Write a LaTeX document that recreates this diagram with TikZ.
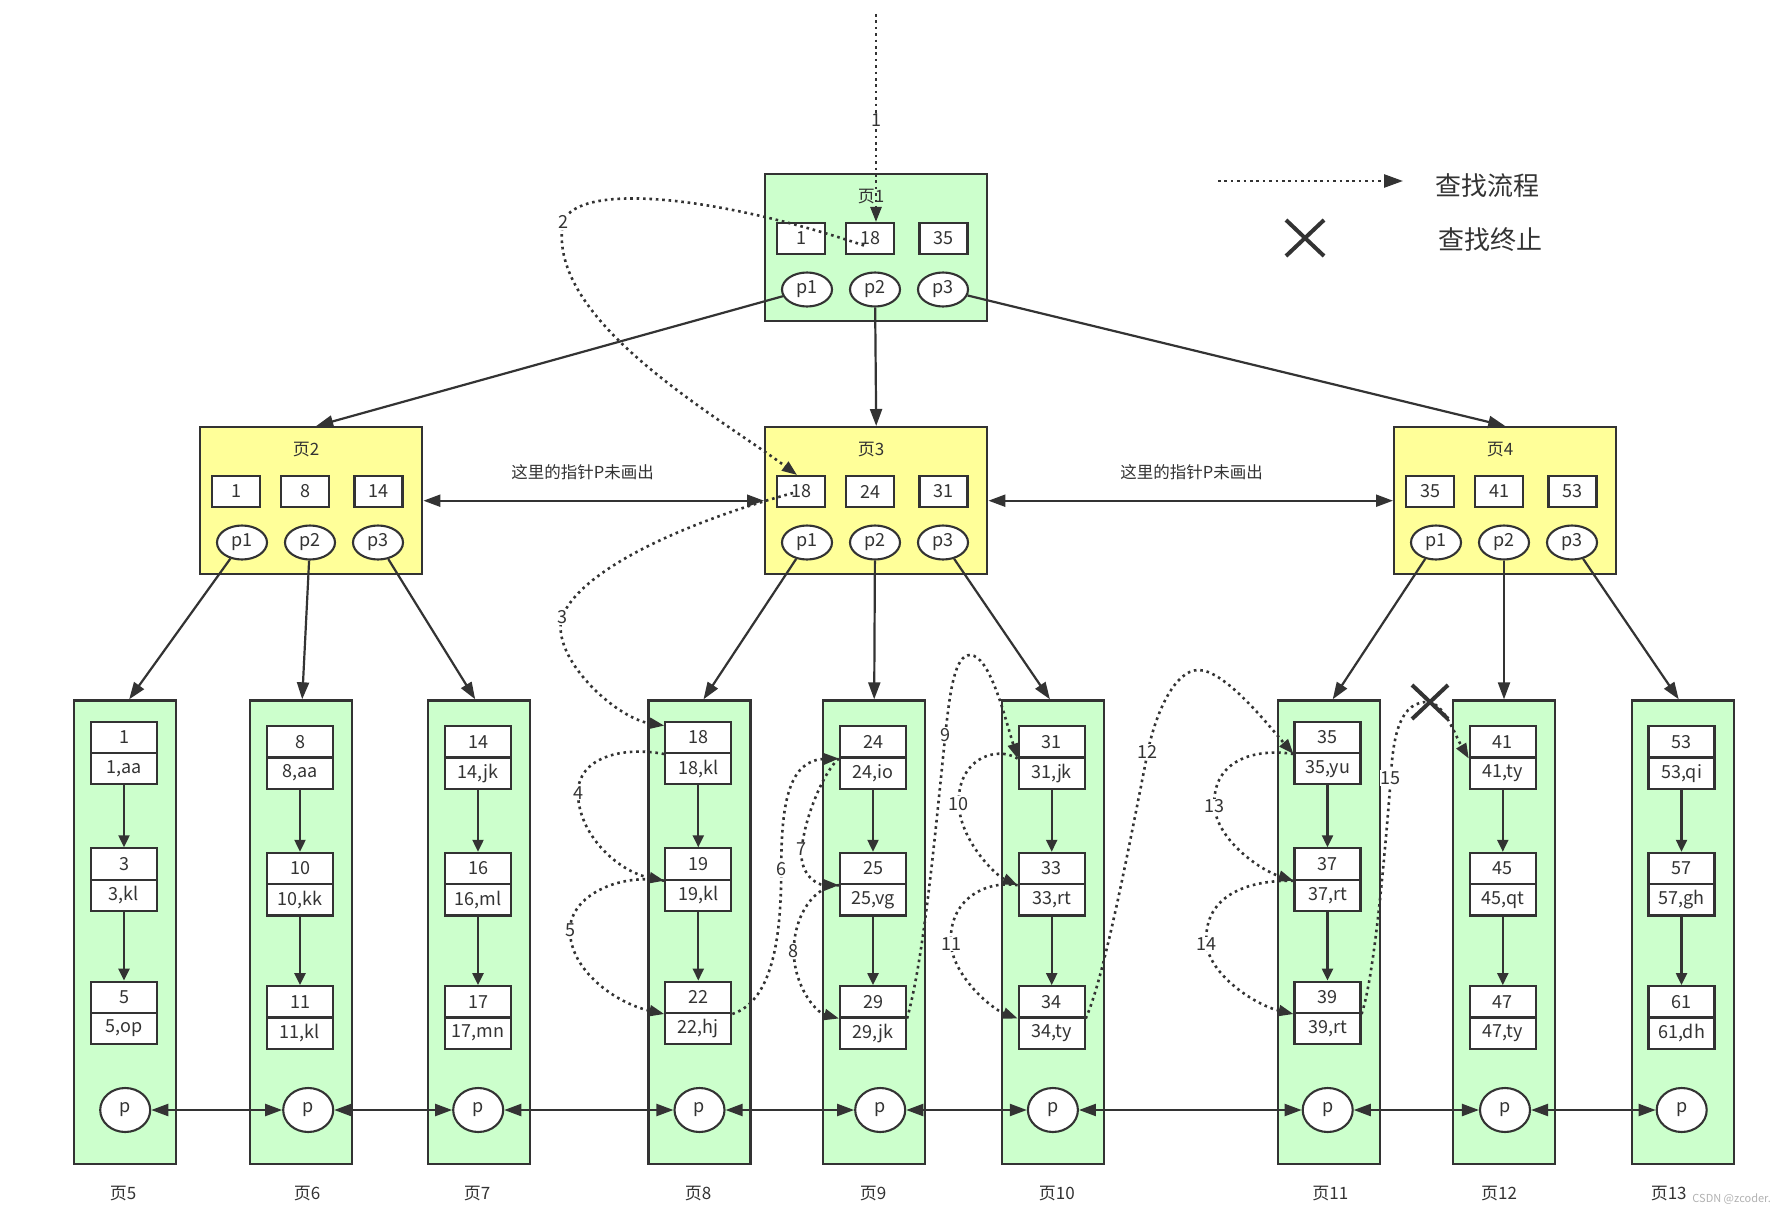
\documentclass[tikz,border=0pt]{standalone}
\usepackage{fontspec}
\setmainfont{Noto Sans CJK SC}
\usetikzlibrary{arrows.meta,shapes.geometric,shapes.misc,calc}
\definecolor{ink}{HTML}{333333}
\definecolor{leafgreen}{HTML}{CCFFCC}
\definecolor{pageyellow}{HTML}{FFFF99}
\tikzset{
  ibox/.style={draw=ink, line width=2.4pt, minimum width=222pt, minimum height=147pt, inner sep=0pt},
  lbox/.style={draw=ink, line width=2.4pt, fill=leafgreen, minimum width=102pt, minimum height=463.4pt, inner sep=0pt},
  txt/.style={text=ink, font=\fontsize{18}{20}\selectfont},
  ikey/.style={txt, draw=ink, line width=2.1pt, fill=white, minimum width=48pt, minimum height=31pt, inner sep=0pt},
  iell/.style={txt, ellipse, draw=ink, line width=2.1pt, fill=white, minimum width=50pt, minimum height=34pt, inner sep=0pt},
  entrykey/.style={txt, draw=ink, line width=2.1pt, fill=white, minimum width=66pt, minimum height=31.3pt, inner sep=0pt},
  pell/.style={txt, ellipse, draw=ink, line width=2.1pt, fill=white, minimum width=50pt, minimum height=44pt, inner sep=0pt},
  ttl/.style={text=ink, font=\fontsize{17}{20}\selectfont, inner sep=0pt},
  note/.style={text=ink, font=\fontsize{16.5}{19}\selectfont, inner sep=0pt},
  legendtxt/.style={text=ink, font=\fontsize{26}{30}\selectfont, inner sep=0pt},
  bigarrow/.style={draw=ink, line width=2.2pt, -{Triangle[length=17pt,width=12pt]}},
  bothways/.style={draw=ink, line width=2.2pt, {Triangle[length=17pt,width=12pt]}-{Triangle[length=17pt,width=12pt]}},
  earrow/.style={draw=ink, line width=2.2pt, -{Triangle[length=12pt,width=11pt]}},
  flow/.style={draw=ink, line width=2.6pt, dash pattern=on 2.6pt off 3.8pt, -{Triangle[length=15pt,width=11pt]}},
  flab/.style={fill=white, inner sep=1pt, text=ink, font=\fontsize{18}{20}\selectfont},
  stopmark/.style={cross out, draw=ink, line width=4pt, inner sep=0pt},
}
% internal page: id, left, top, title, k1, k2, k3, fill
\newcommand\ipage[8]{%
  \node[ibox, fill=#8, anchor=north west] (#1) at (#2,#3) {};
  \node[ttl] (#1t) at ($(#1.north west)+(107,24)$) {#4};
  \node[ikey] (#1k1) at ($(#1.north west)+(37,65.5)$) {#5};
  \node[ikey] (#1k2) at ($(#1.north west)+(106,65.5)$) {#6};
  \node[ikey] (#1k3) at ($(#1.north west)+(179.5,65.5)$) {#7};
  \node[iell] (#1e1) at ($(#1.north west)+(43,116.5)$) {p1};
  \node[iell] (#1e2) at ($(#1.north west)+(111,116.5)$) {p2};
  \node[iell] (#1e3) at ($(#1.north west)+(179,116.5)$) {p3};
}
% leaf page: id, left, ellipse dx, label dx, label
\newcommand\leafpage[5]{%
  \node[lbox, anchor=north west] (#1) at (#2,699.3) {};
  \node[pell] (#1p) at ($(#1.north)+(#3,410.7)$) {p};
  \node[ttl] (#1t) at ($(#1.south)+(#4,28)$) {#5};
}
% leaf entries: id, dy, k1, v1, k2, v2, k3, v3
\newcommand\leafent[8]{%
  \node[entrykey] (#1a1) at ($(#1.north west)+(51,38+#2)$) {#3};
  \node[entrykey] (#1b1) at ($(#1a1)+(0,31.3)$) {#4};
  \node[entrykey] (#1a2) at ($(#1.north west)+(51,164.7+#2)$) {#5};
  \node[entrykey] (#1b2) at ($(#1a2)+(0,31.3)$) {#6};
  \node[entrykey] (#1a3) at ($(#1.north west)+(51,298+#2)$) {#7};
  \node[entrykey] (#1b3) at ($(#1a3)+(0,31.3)$) {#8};
  \draw[earrow] (#1b1) -- (#1a2);
  \draw[earrow] (#1b2) -- (#1a3);
}
\begin{document}
\begin{tikzpicture}[x=1pt,y=-1pt]
\useasboundingbox (0,0) rectangle (1773,1212);
\fill[white] (0,0) rectangle (1773,1212);

% internal pages
\ipage{P1}{764}{173}{页1}{1}{18}{35}{leafgreen}
\ipage{P2}{199}{426}{页2}{1}{8}{14}{pageyellow}
\ipage{P3}{764}{426}{页3}{18}{24}{31}{pageyellow}
\ipage{P4}{1393}{426}{页4}{35}{41}{53}{pageyellow}

% leaf pages
\leafpage{L5}{73}{0}{-2}{页5}
\leafent{L5}{0}{1}{1,aa}{3}{3,kl}{5}{5,op}
\leafpage{L6}{249}{7}{6}{页6}
\leafent{L6}{4.5}{8}{8,aa}{10}{10,kk}{11}{11,kl}
\leafpage{L7}{427}{-1}{-2}{页7}
\leafent{L7}{4.5}{14}{14,jk}{16}{16,ml}{17}{17,mn}
\leafpage{L8}{647.3}{0}{-1.5}{页8}
\leafent{L8}{0}{18}{18,kl}{19}{19,kl}{22}{22,hj}
\leafpage{L9}{822}{6}{-1}{页9}
\leafent{L9}{4.5}{24}{24,io}{25}{25,vg}{29}{29,jk}
\leafpage{L10}{1000.7}{0}{4}{页10}
\leafent{L10}{4.5}{31}{31,jk}{33}{33,rt}{34}{34,ty}
\leafpage{L11}{1276.5}{-1}{1.6}{页11}
\leafent{L11}{0}{35}{35,yu}{37}{37,rt}{39}{39,rt}
\leafpage{L12}{1451.8}{1}{-5}{页12}
\leafent{L12}{4.5}{41}{41,ty}{45}{45,qt}{47}{47,ty}
\leafpage{L13}{1630.5}{-1}{-14}{页13}
\leafent{L13}{4.5}{53}{53,qi}{57}{57,gh}{61}{61,dh}

% tree arrows
\draw[bigarrow] (P1e1) -- ($(P2.north)+(5,0)$);
\draw[bigarrow] (P1e2) -- (P3.north);
\draw[bigarrow] (P1e3) -- (P4.north);
\draw[bothways] (P2.east) -- node[note, midway, xshift=-11pt, yshift=29pt] (n1) {这里的指针P未画出} (P3.west);
\draw[bothways] (P3.east) -- node[note, midway, xshift=1pt, yshift=29pt] (n2) {这里的指针P未画出} (P4.west);

\draw[bigarrow] (P2e1) -- ($(L5.north)+(4,0)$);
\draw[bigarrow] (P2e2) -- ($(L6.north)+(1,0)$);
\draw[bigarrow] (P2e3) -- ($(L7.north)+(-4,0)$);
\draw[bigarrow] (P3e1) -- ($(L8.north)+(4,0)$);
\draw[bigarrow] (P3e2) -- (L9.north);
\draw[bigarrow] (P3e3) -- ($(L10.north)+(-3,0)$);
\draw[bigarrow] (P4e1) -- ($(L11.north)+(4,0)$);
\draw[bigarrow] (P4e2) -- (L12.north);
\draw[bigarrow] (P4e3) -- ($(L13.north)+(-4,0)$);

% leaf links
\draw[bothways] (L5p) -- (L6p);
\draw[bothways] (L6p) -- (L7p);
\draw[bothways] (L7p) -- (L8p);
\draw[bothways] (L8p) -- (L9p);
\draw[bothways] (L9p) -- (L10p);
\draw[bothways] (L10p) -- (L11p);
\draw[bothways] (L11p) -- (L12p);
\draw[bothways] (L12p) -- (L13p);

% stop mark
\node[stopmark, minimum width=32pt, minimum height=30pt] (xstop) at (1430,702) {};

% search flow
\coordinate (f0) at (876,14);
\draw[flow] (f0) -- node[flab, pos=0.51] (f1) {1} (f0 |- P1k2.north);
\draw[flow] ($(P1k2.center)+(-6,7)$) .. controls (714,195) and (578,182) .. (563,222) node[flab] (f2) {2}
  .. controls (545,320) and (719,417) .. ($(P3k1.north)+(-4,0)$);
\draw[flow] ($(P3k1.center)+(-8,1.5)$) .. controls (693,520) and (582,567) .. (562,617) node[flab] (f3) {3}
  .. controls (550,657) and (615,718) .. ($(L8a1.north west)+(0,5)$);
\draw[flow] (L8a1.south west) .. controls (621,746) and (578,758) .. (578,793) node[flab] (f4) {4}
  .. controls (578,833) and (616,871) .. (L8a2.south west);
\draw[flow] (L8a2.south west) .. controls (620,873) and (570,895) .. (570,930.6) node[flab] (f5) {5}
  .. controls (570,970) and (615,1003) .. (L8a3.south west);
\draw[flow] (L8a3.south east) .. controls (775,1000) and (781,930) .. (781.3,869.5) node[flab] (f6) {6}
  .. controls (781,800) and (790,760) .. (L9a1.south west);
\draw[flow] (L9a1.south west) .. controls (825,770) and (805,815) .. (801.7,849.2) node[flab] (f7) {7}
  .. controls (799,872) and (815,885) .. (L9a2.south west);
\draw[flow] (L9a2.south west) .. controls (815,885) and (793.8,915) .. (793.8,951) node[flab] (f8) {8}
  .. controls (793.8,985) and (815,1012) .. (L9a3.south west);
\draw[flow] (L9a3.south east) .. controls (924,958) and (935,835) .. (945.3,735) node[flab] (f9) {9}
  .. controls (950,690) and (955,655) .. (970,655)
  .. controls (990,655) and (1005,718) .. (L10a1.south west);
\draw[flow] (L10a1.south west) .. controls (995,745) and (957,760) .. (958.8,804) node[flab] (f10) {10}
  .. controls (960,840) and (995,875) .. (L10a2.south west);
\draw[flow] (L10a2.south west) .. controls (985,880) and (948,900) .. (951,944) node[flab] (f11) {11}
  .. controls (953,975) and (990,1008) .. (L10a3.south west);
\draw[flow] (L10a3.south east) .. controls (1104,978) and (1128,852) .. (1147.7,752) node[flab] (f12) {12}
  .. controls (1156,712) and (1175,670) .. (1198.5,670)
  .. controls (1225,670) and (1269,726) .. (L11a1.south west);
\draw[flow] (L11a1.south west) .. controls (1255,748) and (1212,760) .. (1214.4,806.2) node[flab] (f13) {13}
  .. controls (1217,840) and (1260,870) .. (L11a2.south west);
\draw[flow] (L11a2.south west) .. controls (1240,880) and (1203,900) .. (1206.5,944) node[flab] (f14) {14}
  .. controls (1210,975) and (1255,1005) .. (L11a3.south west);
\draw[flow] (L11a3.south east) .. controls (1375,975) and (1386,840) .. (1390.8,778) node[flab] (f15) {15}
  .. controls (1393,735) and (1400,700) .. (xstop.center)
  .. controls (1445,706) and (1455,735) .. (L12a1.south west);

% legend
\coordinate (lg0) at (1218,181);
\coordinate (lg1) at (1403,181);
\draw[flow, -{Triangle[length=19pt,width=13pt]}] (lg0) -- (lg1);
\node[legendtxt] (lgt1) at (1487,186) {查找流程};
\node[stopmark, minimum width=34pt, minimum height=32pt] (lgx) at (1305,238) {};
\node[legendtxt] (lgt2) at (1490,240) {查找终止};

% watermark
\node[text=gray!60, font=\fontsize{11}{13}\selectfont, inner sep=0pt, anchor=east] (wm) at (1771,1199) {CSDN @zcoder.};
\end{tikzpicture}
\end{document}
